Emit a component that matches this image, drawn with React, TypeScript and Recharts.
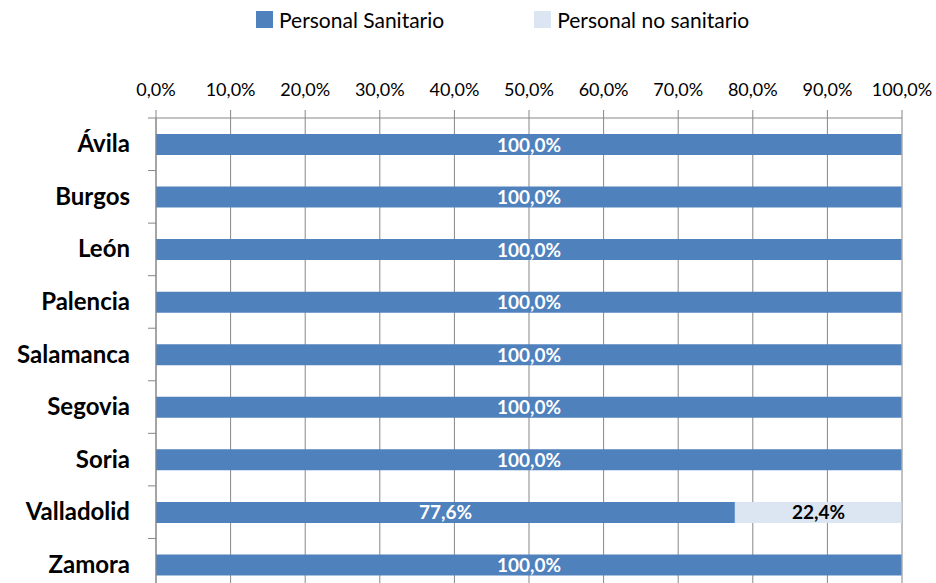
import React from "react";
import {
  BarChart,
  Bar,
  XAxis,
  YAxis,
  CartesianGrid,
  LabelList,
  ReferenceLine,
} from "recharts";

const provinces = [
  "Ávila",
  "Burgos",
  "León",
  "Palencia",
  "Salamanca",
  "Segovia",
  "Soria",
  "Valladolid",
  "Zamora",
];
const sanitario = [1, 1, 1, 1, 1, 1, 1, 0.776, 1];
const noSanitario = [0, 0, 0, 0, 0, 0, 0, 0.224, 0];
const xTicks = [0, 0.1, 0.2, 0.3, 0.4, 0.5, 0.6, 0.7, 0.8, 0.9, 1];

const seriesNames = ["Personal Sanitario", "Personal no sanitario"];
const colors = ["#4F81BD", "#DCE6F2"];

const FONT = "Lato, 'Liberation Sans', sans-serif";
const GRID = "#878787";

const chartData = provinces.map((name, i) => ({
  name,
  sanitario: sanitario[i],
  noSanitario: noSanitario[i],
}));

// "0,776" -> "77,6%"
const pct = (v: number) => (v * 100).toFixed(1).replace(".", ",") + "%";

const MARGIN = { top: 78, right: 34, bottom: 0, left: 0 };
const WIDTH = 936;
const HEIGHT = 591;

// category label plus the small tick at the band boundary (like Excel)
const CategoryTick = (props: any) => {
  const { x, y, payload } = props;
  const band = (HEIGHT - MARGIN.top - 40 - MARGIN.bottom) / provinces.length;
  return (
    <g>
      <text
        x={x}
        y={y}
        dy={8}
        textAnchor="end"
        fontFamily={FONT}
        fontWeight="bold"
        fontSize={24}
        fill="#000"
      >
        {payload.value}
      </text>
      <line x1={x + 18} x2={x + 26} y1={y - band / 2} y2={y - band / 2} stroke={GRID} />
    </g>
  );
};

const renderLabel = (color: string) => (props: any) => {
  const { x, y, width, height, value } = props;
  if (!value) return null;
  return (
    <text
      x={x + width / 2}
      y={y + height / 2}
      dy={7}
      textAnchor="middle"
      fontFamily={FONT}
      fontWeight="bold"
      fontSize={19}
      fill={color}
    >
      {pct(value)}
    </text>
  );
};

export default function App() {
  return (
    <div style={{ position: "relative", width: WIDTH, height: HEIGHT, overflow: "hidden" }}>
      <style>{`body{margin:0}`}</style>
      {/* legend */}
      <div
        style={{
          position: "absolute",
          top: 7,
          left: 256,
          display: "flex",
          alignItems: "center",
          fontFamily: FONT,
          fontSize: 21,
          color: "#000",
        }}
      >
        {seriesNames.map((n, i) => (
          <div key={n} style={{ display: "flex", alignItems: "center", marginRight: i === 0 ? 90 : 0 }}>
            <span style={{ width: 17, height: 17, background: colors[i], marginRight: 6 }} />
            <span>{n}</span>
          </div>
        ))}
      </div>
      <BarChart
        width={WIDTH}
        height={HEIGHT}
        data={chartData}
        layout="vertical"
        margin={MARGIN}
        barSize={21}
      >
        <CartesianGrid horizontal={false} vertical stroke={GRID} />
        <XAxis
          type="number"
          orientation="top"
          domain={[0, 1]}
          ticks={xTicks}
          tickFormatter={pct}
          height={40}
          tickSize={8}
          tickMargin={14}
          axisLine={{ stroke: GRID }}
          tickLine={{ stroke: GRID }}
          tick={{ fontFamily: FONT, fontSize: 18, fill: "#000" }}
          interval={0}
        />
        <YAxis
          type="category"
          dataKey="name"
          width={156}
          tickSize={8}
          tickMargin={18}
          tickLine={false}
          axisLine={{ stroke: GRID }}
          tick={<CategoryTick />}
          interval={0}
        />
        <ReferenceLine x={1} stroke="#C0C0C0" />
        <Bar dataKey="sanitario" stackId="a" fill={colors[0]} isAnimationActive={false}>
          <LabelList dataKey="sanitario" content={renderLabel("#FFFFFF")} />
        </Bar>
        <Bar dataKey="noSanitario" stackId="a" fill={colors[1]} isAnimationActive={false}>
          <LabelList dataKey="noSanitario" content={renderLabel("#000000")} />
        </Bar>
      </BarChart>
    </div>
  );
}
